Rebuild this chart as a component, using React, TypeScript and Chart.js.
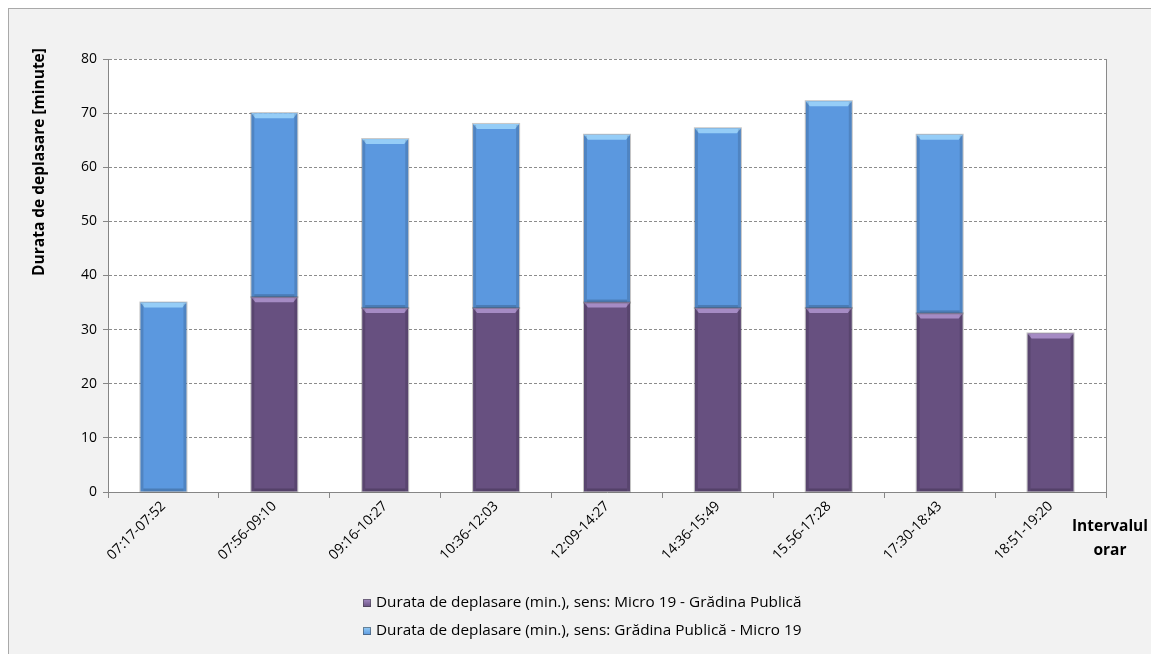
import React, { useEffect, useRef } from "react";
import { Chart, registerables } from "chart.js";

Chart.register(...registerables);

const categories = [
  "07:17-07:52",
  "07:56-09:10",
  "09:16-10:27",
  "10:36-12:03",
  "12:09-14:27",
  "14:36-15:49",
  "15.56-17:28",
  "17:30-18:43",
  "18:51-19:20",
];
const seriesMicroToGradina = [0, 36, 34, 34, 35, 34, 34, 33, 29.3];
const seriesGradinaToMicro = [35, 34, 31.2, 34, 31, 33.2, 38.2, 33, 0];
const seriesNames = [
  "Durata de deplasare (min.), sens: Micro 19 - Grădina Publică",
  "Durata de deplasare (min.), sens: Grădina Publică - Micro 19",
];
const yTitle = "Durata de deplasare [minute]";
const xTitleLines = ["Intervalul", "orar"];

const FONT = "'Open Sans', 'Noto Sans', sans-serif";
const PURPLE = "#675080";
const PURPLE_LIGHT = "#a58bc4";
const BLUE = "#5b98df";
const BLUE_LIGHT = "#95cdf7";

const bevelPlugin = {
  id: "bevel",
  beforeDraw(chart: any) {
    const { ctx, chartArea: a } = chart;
    ctx.save();
    ctx.fillStyle = "#ffffff";
    ctx.fillRect(a.left, a.top, a.right - a.left, a.bottom - a.top);
    ctx.restore();
  },
  afterDatasetsDraw(chart: any) {
    const ctx = chart.ctx;
    const lights = [PURPLE_LIGHT, BLUE_LIGHT];
    chart.data.datasets.forEach((ds: any, di: number) => {
      const meta = chart.getDatasetMeta(di);
      meta.data.forEach((el: any) => {
        const p = el.getProps(["x", "y", "base", "width"], true);
        const left = p.x - p.width / 2;
        const right = p.x + p.width / 2;
        const top = Math.min(p.y, p.base);
        const bottom = Math.max(p.y, p.base);
        if (bottom - top < 1) return;
        ctx.save();
        ctx.fillStyle = lights[di];
        ctx.beginPath();
        ctx.moveTo(left, top);
        ctx.lineTo(right, top);
        ctx.lineTo(right - 4, top + 5);
        ctx.lineTo(left + 4, top + 5);
        ctx.closePath();
        ctx.fill();
        ctx.fillStyle = "rgba(0,0,0,0.13)";
        ctx.fillRect(left, top + 1, 3, bottom - top - 1);
        ctx.fillRect(right - 3, top + 1, 3, bottom - top - 1);
        ctx.fillStyle = "rgba(0,0,0,0.18)";
        ctx.fillRect(left + 3, bottom - 3, right - left - 6, 3);
        ctx.strokeStyle = "rgba(90,90,90,0.35)";
        ctx.lineWidth = 1;
        ctx.strokeRect(left - 0.5, top - 0.5, right - left + 1, bottom - top + 1);
        ctx.restore();
      });
    });
  },
  afterDraw(chart: any) {
    const { ctx, chartArea: a } = chart;
    ctx.save();
    ctx.strokeStyle = "#8a8a8a";
    ctx.lineWidth = 1;
    ctx.beginPath();
    ctx.moveTo(Math.round(a.right) + 0.5, a.top);
    ctx.lineTo(Math.round(a.right) + 0.5, a.bottom);
    ctx.stroke();

    ctx.fillStyle = "#000";
    ctx.font = `bold 15.5px ${FONT}`;
    ctx.textAlign = "center";
    ctx.textBaseline = "middle";
    ctx.save();
    ctx.translate(31, 153);
    ctx.rotate(-Math.PI / 2);
    ctx.fillText(yTitle, 0, 0);
    ctx.restore();

    ctx.fillText(xTitleLines[0], 1101, 518);
    ctx.fillText(xTitleLines[1], 1101, 542);

    const colors = [PURPLE, BLUE];
    const lightC = [PURPLE_LIGHT, BLUE_LIGHT];
    ctx.font = `15.3px ${FONT}`;
    ctx.textAlign = "left";
    seriesNames.forEach((name, i) => {
      const cy = 594 + i * 28;
      const bx = 354;
      const by = cy - 4;
      const grad = ctx.createLinearGradient(0, by, 0, by + 8);
      grad.addColorStop(0, lightC[i]);
      grad.addColorStop(1, colors[i]);
      ctx.fillStyle = grad;
      ctx.fillRect(bx, by, 8, 8);
      ctx.strokeStyle = "rgba(60,60,60,0.5)";
      ctx.strokeRect(bx + 0.5, by + 0.5, 7, 7);
      ctx.fillStyle = "#000";
      ctx.fillText(name, bx + 13, cy);
    });
    ctx.restore();
  },
};

export default function App() {
  const ref = useRef<HTMLCanvasElement | null>(null);
  useEffect(() => {
    document.documentElement.style.overflow = "hidden";
    document.body.style.overflow = "hidden";
    if (!ref.current) return;
    const chart = new Chart(ref.current, {
      type: "bar",
      data: {
        labels: categories,
        datasets: [
          {
            label: seriesNames[0],
            data: seriesMicroToGradina,
            backgroundColor: PURPLE,
            barPercentage: 0.415,
            categoryPercentage: 1,
          },
          {
            label: seriesNames[1],
            data: seriesGradinaToMicro,
            backgroundColor: BLUE,
            barPercentage: 0.415,
            categoryPercentage: 1,
          },
        ],
      },
      options: {
        animation: false,
        responsive: false,
        devicePixelRatio: 1,
        layout: { padding: { left: 21, right: 45, top: 50, bottom: 0 } },
        plugins: {
          legend: { display: false },
          tooltip: { enabled: false },
        },
        scales: {
          x: {
            stacked: true,
            offset: true,
            grid: {
              display: true,
              offset: true,
              drawOnChartArea: false,
              drawTicks: true,
              tickLength: 6,
              color: "#868686",
            },
            border: { display: true, color: "#868686", width: 1 },
            ticks: {
              autoSkip: false,
              maxRotation: 45,
              minRotation: 45,
              color: "#000",
              padding: 0,
              font: { family: FONT, size: 14 },
            },
            afterFit: (s: any) => {
              s.height = 163;
            },
          },
          y: {
            stacked: true,
            min: 0,
            max: 80,
            ticks: {
              stepSize: 10,
              color: "#000",
              padding: 6,
              font: { family: FONT, size: 14 },
            },
            grid: {
              color: "#8c8c8c",
              tickLength: 5,
              tickColor: "#868686",
            },
            border: { display: true, color: "#868686", width: 1, dash: [3, 2] },
            afterFit: (s: any) => {
              s.width = 78;
            },
          },
        },
      },
      plugins: [bevelPlugin],
    } as any);
    return () => chart.destroy();
  }, []);

  return (
    <div
      style={{
        position: "fixed",
        left: 8,
        top: 8,
        width: 1143,
        height: 646,
        borderTop: "1px solid #a9a9a9",
        borderLeft: "1px solid #a9a9a9",
        background: "#f2f2f2",
        overflow: "hidden",
      }}
    >
      <canvas ref={ref} width={1142} height={646} style={{ display: "block" }} />
    </div>
  );
}
